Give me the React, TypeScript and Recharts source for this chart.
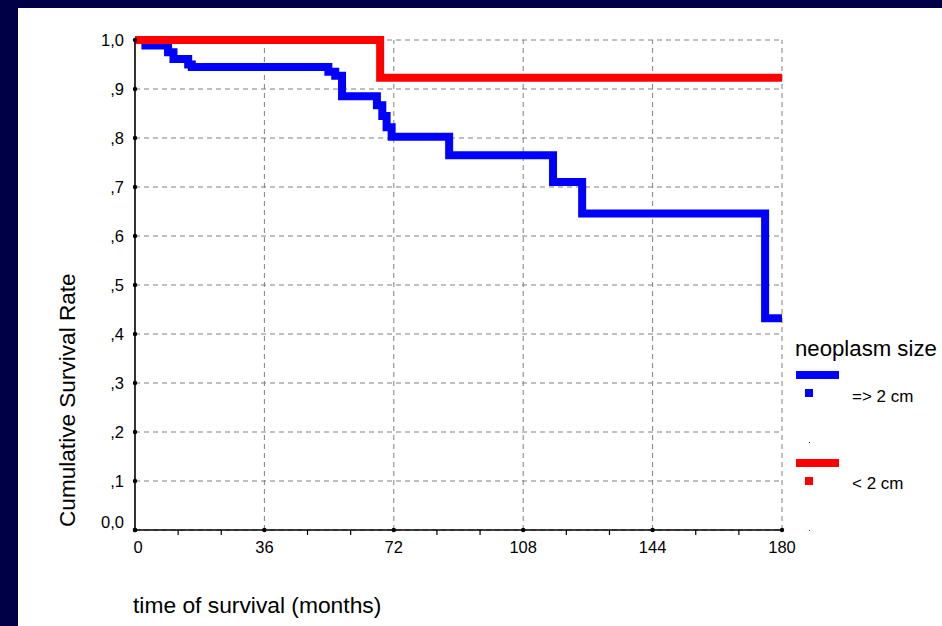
import React from "react";
import {
  LineChart,
  Line,
  XAxis,
  YAxis,
  CartesianGrid,
  ReferenceLine,
} from "recharts";

// Kaplan-Meier steps
const blueMonths = [0, 2.9, 9.2, 10.7, 14.8, 15.8, 53.8, 55.7, 57.6, 67.3, 68.8, 70.0, 71.4, 87.4, 116.3, 124.4, 175.3, 180];
const blueSurvival = [1.0, 0.989, 0.975, 0.961, 0.95, 0.945, 0.935, 0.927, 0.885, 0.867, 0.845, 0.822, 0.8025, 0.765, 0.71, 0.646, 0.432, 0.432];

const redMonths = [0, 68.2, 180];
const redSurvival = [1.0, 0.923, 0.923];

const xTicks = [0, 12, 24, 36, 48, 60, 72, 84, 96, 108, 120, 132, 144, 156, 168, 180];
const xMajor = [0, 36, 72, 108, 144, 180];
const yTicks = [0, 0.1, 0.2, 0.3, 0.4, 0.5, 0.6, 0.7, 0.8, 0.9, 1.0];

const seriesNames = ["=> 2 cm", "< 2 cm"];
const seriesColors = ["#0000ff", "#ff0000"];

const blueData = blueMonths.map((t, i) => ({ t, s: blueSurvival[i] }));
const redData = redMonths.map((t, i) => ({ t, s: redSurvival[i] }));

const FONT = "Arial, 'Liberation Sans', sans-serif";

function yLabel(v: number): string {
  if (v === 0) return "0,0";
  if (v === 1) return "1,0";
  return "," + Math.round(v * 10);
}

const YTick = (props: any) => {
  const { x, y, payload } = props;
  const v = payload.value;
  return (
    <g>
      <circle cx={x} cy={y} r={2.2} fill="#000" />
      <text
        x={x - 11}
        y={y + 5.8 - (v === 0 ? 8 : 0)}
        textAnchor="end"
        fontSize={16.5}
        fontFamily={FONT}
        fill="#000"
      >
        {yLabel(v)}
      </text>
    </g>
  );
};

const XTick = (props: any) => {
  const { x, y, payload } = props;
  const v = payload.value;
  if (!xMajor.includes(v)) {
    return <line x1={x} y1={y} x2={x} y2={y + 5} stroke="#000" strokeWidth={1.2} />;
  }
  return (
    <g>
      <circle cx={x} cy={y} r={2.2} fill="#000" />
      <text
        x={x + (v === 0 ? 3 : 0)}
        y={y + 23}
        textAnchor="middle"
        fontSize={16.5}
        fontFamily={FONT}
        fill="#000"
      >
        {v}
      </text>
    </g>
  );
};

export default function App() {
  return (
    <div
      style={{
        position: "absolute",
        left: 0,
        top: 0,
        width: 942,
        height: 626,
        background: "#000046",
        overflow: "hidden",
      }}
    >
      <div
        style={{
          position: "absolute",
          left: 18,
          top: 8,
          width: 924,
          height: 618,
          background: "#fff",
        }}
      />
      <div style={{ position: "absolute", left: 0, top: 0 }}>
        <LineChart
          width={942}
          height={626}
          margin={{ top: 40, right: 160, bottom: 66, left: 75 }}
        >
          <CartesianGrid
            vertical={false}
            stroke="#808080"
            strokeDasharray="5 4"
          />
          {xMajor.slice(1).map((m) => (
            <ReferenceLine
              key={m}
              x={m}
              stroke="#808080"
              strokeDasharray="5 4"
            />
          ))}
          <XAxis
            dataKey="t"
            type="number"
            domain={[0, 180]}
            ticks={xTicks}
            interval={0}
            height={30}
            tickSize={0}
            tickMargin={0}
            tickLine={false}
            axisLine={{ stroke: "#000", strokeWidth: 1.6 }}
            tick={<XTick />}
            allowDataOverflow
          />
          <YAxis
            type="number"
            domain={[0, 1]}
            ticks={yTicks}
            interval={0}
            width={60}
            tickSize={0}
            tickMargin={0}
            tickLine={false}
            axisLine={{ stroke: "#000", strokeWidth: 1.6 }}
            tick={<YTick />}
          />
          <Line
            data={blueData}
            dataKey="s"
            type="stepAfter"
            stroke={seriesColors[0]}
            strokeWidth={8}
            strokeLinejoin="miter"
            strokeLinecap="butt"
            dot={false}
            activeDot={false}
            isAnimationActive={false}
            name={seriesNames[0]}
          />
          <Line
            data={redData}
            dataKey="s"
            type="stepAfter"
            stroke={seriesColors[1]}
            strokeWidth={8}
            strokeLinejoin="miter"
            strokeLinecap="butt"
            dot={false}
            activeDot={false}
            isAnimationActive={false}
            name={seriesNames[1]}
          />
        </LineChart>
      </div>
      <svg
        width={942}
        height={626}
        style={{ position: "absolute", left: 0, top: 0, pointerEvents: "none" }}
      >
        <text
          x={75}
          y={527}
          transform="rotate(-90 75 527)"
          fontSize={22.6}
          fontFamily={FONT}
          fill="#000"
        >
          Cumulative Survival Rate
        </text>
        <text x={133} y={612.5} fontSize={22.8} fontFamily={FONT} fill="#000">
          time of survival (months)
        </text>
        <text x={795} y={356} fontSize={22.2} fontFamily={FONT} fill="#000">
          neoplasm size
        </text>
        {seriesNames.map((name, i) => {
          const top = 371 + i * 88;
          return (
            <g key={name}>
              <rect x={796} y={top} width={43} height={8} fill={seriesColors[i]} />
              <rect x={805} y={top + 18} width={8} height={8} fill={seriesColors[i]} />
              <rect x={809} y={top + 71} width={1} height={1} fill={seriesColors[i]} />
              <text
                x={852}
                y={top + 30.5 - i * 0.5}
                fontSize={17}
                fontFamily={FONT}
                fill="#000"
              >
                {name}
              </text>
            </g>
          );
        })}
      </svg>
    </div>
  );
}
